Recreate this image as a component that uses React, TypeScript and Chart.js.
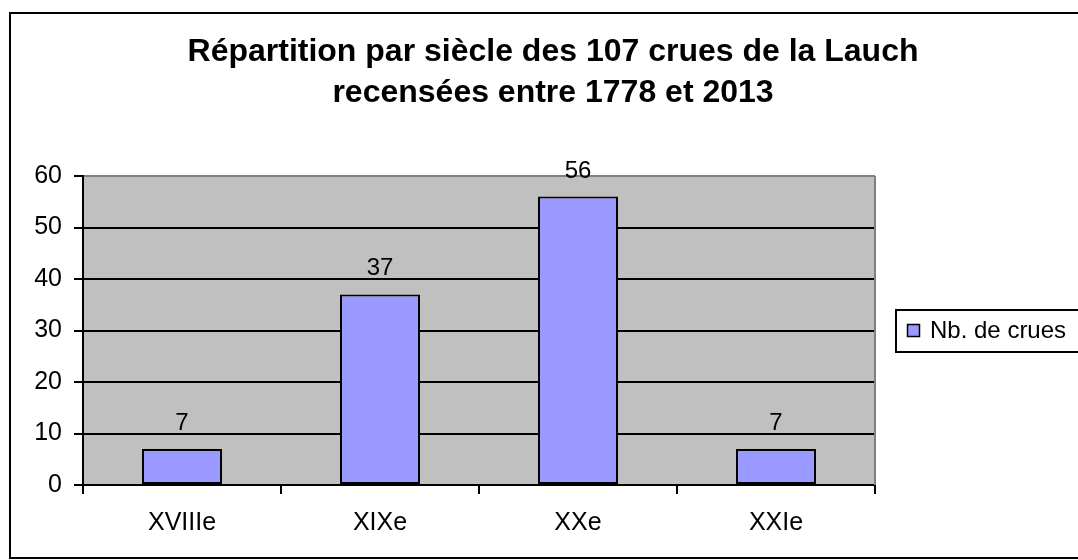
import React, { useEffect, useRef } from 'react';
import { Chart, registerables } from 'chart.js';

Chart.register(...registerables);

const categories: string[] = ['XVIIIe', 'XIXe', 'XXe', 'XXIe'];
const floods: number[] = [7, 37, 56, 7];
const seriesLabel = 'Nb. de crues';
const titleLines: string[] = ['Répartition par siècle des 107 crues de la Lauch', 'recensées entre 1778 et 2013'];
const yTicks: number[] = [0, 10, 20, 30, 40, 50, 60];

const FONT = '"Liberation Sans", Arial, Helvetica, sans-serif';
const W = 1106;
const H = 560;
const PLOT_RIGHT = 875;

const framePlugin = {
  id: 'frame',
  beforeDraw(chart: any) {
    const { ctx, chartArea: a } = chart;
    ctx.save();
    ctx.fillStyle = '#ffffff';
    ctx.fillRect(0, 0, chart.width, chart.height);
    ctx.fillStyle = '#C0C0C0';
    ctx.fillRect(a.left, a.top, a.right - a.left, a.bottom - a.top);
    ctx.strokeStyle = '#000000';
    ctx.lineWidth = 2;
    ctx.strokeRect(10, 13, chart.width, 545);
    ctx.restore();
  },
  afterDraw(chart: any) {
    const { ctx, chartArea: a } = chart;
    ctx.save();
    // right border of plot area
    ctx.strokeStyle = '#808080';
    ctx.lineWidth = 2;
    ctx.beginPath();
    ctx.moveTo(a.right, a.top);
    ctx.lineTo(a.right, a.bottom);
    ctx.stroke();
    // legend
    const ds = chart.data.datasets[0];
    const cy = Math.round((a.top + a.bottom) / 2);
    const lx = Math.round(a.right) + 21;
    ctx.strokeStyle = '#000000';
    ctx.lineWidth = 2;
    ctx.fillStyle = '#ffffff';
    ctx.fillRect(lx, cy - 21, chart.width, 42);
    ctx.strokeRect(lx, cy - 21, chart.width, 42);
    ctx.fillStyle = ds.backgroundColor;
    ctx.fillRect(lx + 11, cy - 7, 13, 13);
    ctx.lineWidth = 1.5;
    ctx.strokeRect(lx + 11.5, cy - 6.5, 12, 12);
    ctx.fillStyle = '#000000';
    ctx.font = `24px ${FONT}`;
    ctx.textAlign = 'left';
    ctx.textBaseline = 'middle';
    ctx.fillText(ds.label, lx + 34, cy);
    ctx.restore();
  },
  afterDatasetsDraw(chart: any) {
    const { ctx } = chart;
    const meta = chart.getDatasetMeta(0);
    const ds = chart.data.datasets[0];
    ctx.save();
    ctx.fillStyle = '#000000';
    ctx.font = `24px ${FONT}`;
    ctx.textAlign = 'center';
    ctx.textBaseline = 'alphabetic';
    meta.data.forEach((bar: any, i: number) => {
      ctx.fillText(String(ds.data[i]), bar.x, bar.y - 19);
    });
    ctx.restore();
  },
};

export default function App() {
  const ref = useRef<HTMLCanvasElement | null>(null);

  useEffect(() => {
    document.body.style.margin = '0';
    if (!ref.current) return;
    const chart = new Chart(ref.current, {
      type: 'bar',
      data: {
        labels: categories,
        datasets: [
          {
            label: seriesLabel,
            data: floods,
            backgroundColor: '#9999FF',
            borderColor: '#000000',
            borderWidth: 2,
            borderSkipped: false,
            barPercentage: 0.404,
            categoryPercentage: 1,
          },
        ],
      },
      options: {
        responsive: false,
        animation: false,
        devicePixelRatio: 1,
        layout: { padding: 0 },
        plugins: {
          legend: { display: false },
          tooltip: { enabled: false },
          title: {
            display: true,
            text: titleLines,
            color: '#000000',
            font: { family: FONT, size: 32, weight: 'bold', lineHeight: 1.3 },
            padding: { top: 31, bottom: 61.8 },
          },
        },
        scales: {
          x: {
            z: 1,
            grid: {
              offset: true,
              drawOnChartArea: false,
              drawTicks: true,
              tickLength: 9,
              color: '#000000',
              lineWidth: 2,
            },
            border: { color: '#000000', width: 2 },
            ticks: {
              color: '#000000',
              font: { family: FONT, size: 25 },
              padding: 14,
              maxRotation: 0,
              autoSkip: false,
            },
            afterFit: (s: any) => {
              s.height = 75;
            },
          },
          y: {
            min: 0,
            max: 60,
            afterBuildTicks: (s: any) => {
              s.ticks = yTicks.map((v) => ({ value: v }));
            },
            ticks: {
              color: '#000000',
              font: { family: FONT, size: 25 },
              padding: 12,
            },
            grid: {
              color: (c: any) => (c.tick && c.tick.value === 60 ? '#808080' : '#000000'),
              lineWidth: 2,
              tickColor: '#000000',
              tickWidth: 2,
              tickLength: 9,
            },
            border: { color: '#000000', width: 2 },
            afterFit: (s: any) => {
              s.width = 83;
            },
          },
          yR: {
            type: 'linear',
            axis: 'y',
            position: 'right',
            display: true,
            grid: { display: false },
            ticks: { display: false },
            border: { display: false },
            afterFit: (s: any) => {
              s.width = W - PLOT_RIGHT;
            },
          },
        },
      } as any,
      plugins: [framePlugin],
    });
    return () => chart.destroy();
  }, []);

  return (
    <div style={{ width: 1078, height: 560, overflow: 'hidden', position: 'relative' }}>
      <canvas ref={ref} width={W} height={H} style={{ display: 'block' }} />
    </div>
  );
}
